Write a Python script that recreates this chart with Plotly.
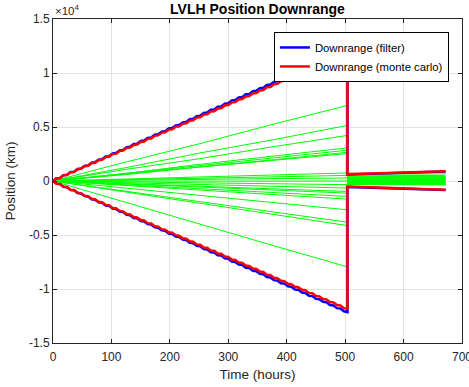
import numpy as np
import plotly.graph_objects as go

# ---- data ----
# 3-sigma bounds before the update, sampled every 6 hours from 0 to 504 h
bound_times_pre = list(range(0, 505, 6))
upper_filter_pre = [0, 250, 290, 540, 580, 830, 860, 1110, 1150, 1400,
                    1440, 1690, 1730, 1980, 2020, 2270, 2300, 2550, 2590, 2840,
                    2880, 3130, 3170, 3420, 3460, 3710, 3740, 3990, 4030, 4280,
                    4320, 4570, 4610, 4860, 4900, 5150, 5180, 5430, 5470, 5720,
                    5760, 6010, 6050, 6300, 6340, 6590, 6620, 6870, 6910, 7160,
                    7200, 7450, 7490, 7740, 7780, 8030, 8060, 8310, 8350, 8600,
                    8640, 8890, 8930, 9180, 9220, 9470, 9500, 9750, 9790, 10040,
                    10080, 10330, 10370, 10620, 10660, 10910, 10940, 11190, 11230, 11480,
                    11520, 11770, 11810, 12060, 12100]
lower_filter_pre = [0, -250, -290, -540, -580, -830, -860, -1110, -1150, -1400,
                    -1440, -1690, -1730, -1980, -2020, -2270, -2300, -2550, -2590, -2840,
                    -2880, -3130, -3170, -3420, -3460, -3710, -3740, -3990, -4030, -4280,
                    -4320, -4570, -4610, -4860, -4900, -5150, -5180, -5430, -5470, -5720,
                    -5760, -6010, -6050, -6300, -6340, -6590, -6620, -6870, -6910, -7160,
                    -7200, -7450, -7490, -7740, -7780, -8030, -8060, -8310, -8350, -8600,
                    -8640, -8890, -8930, -9180, -9220, -9470, -9500, -9750, -9790, -10040,
                    -10080, -10330, -10370, -10620, -10660, -10910, -10940, -11190, -11230, -11480,
                    -11520, -11770, -11810, -12060, -12140]
upper_mc_pre = [0, 250, 280, 530, 560, 810, 840, 1090, 1120, 1370,
                1410, 1650, 1690, 1930, 1970, 2210, 2250, 2490, 2530, 2770,
                2810, 3060, 3090, 3340, 3370, 3620, 3650, 3900, 3930, 4180,
                4220, 4460, 4500, 4740, 4780, 5020, 5060, 5300, 5340, 5580,
                5620, 5870, 5900, 6150, 6180, 6430, 6460, 6710, 6740, 6990,
                7030, 7270, 7310, 7550, 7590, 7830, 7870, 8110, 8150, 8390,
                8430, 8680, 8710, 8960, 8990, 9240, 9270, 9520, 9550, 9800,
                9840, 10080, 10120, 10360, 10400, 10640, 10680, 10920, 10960, 11200,
                11240, 11490, 11520, 11770, 11800]
lower_mc_pre = [0, -250, -280, -530, -560, -810, -840, -1090, -1120, -1370,
                -1410, -1650, -1690, -1930, -1970, -2210, -2250, -2490, -2530, -2770,
                -2810, -3060, -3090, -3340, -3370, -3620, -3650, -3900, -3930, -4180,
                -4220, -4460, -4500, -4740, -4780, -5020, -5060, -5300, -5340, -5580,
                -5620, -5870, -5900, -6150, -6180, -6430, -6460, -6710, -6740, -6990,
                -7030, -7270, -7310, -7550, -7590, -7830, -7870, -8110, -8150, -8390,
                -8430, -8680, -8710, -8960, -8990, -9240, -9270, -9520, -9550, -9800,
                -9840, -10080, -10120, -10360, -10400, -10640, -10680, -10920, -10960, -11200,
                -11240, -11490, -11520, -11770, -11830]

# bounds after the update
bound_times_post = [504, 530, 560, 590, 620, 650, 672]
upper_filter_post = [600, 640, 690, 740, 790, 840, 870]
upper_mc_post = [640, 680, 730, 780, 830, 880, 910]
lower_filter_post = [-560, -600, -650, -700, -750, -800, -840]
lower_mc_post = [-520, -560, -610, -660, -710, -760, -800]

# Monte Carlo runs
run_times_pre = [0, 125, 250, 375, 504]
run_times_post = [504, 590, 672]
runs_pre = [
    [0, 1760, 3440, 5230, 7000],
    [0, 1240, 2580, 3800, 5150],
    [0, 1080, 2060, 3160, 4220],
    [0, 700, 1540, 2270, 3070],
    [0, 730, 1390, 2130, 2850],
    [0, 640, 1330, 1960, 2660],
    [0, 600, 1280, 1900, 2540],
    [0, 200, 360, 560, 745],
    [0, 110, 270, 380, 520],
    [0, 90, 130, 220, 280],
    [0, -20, 10, -10, 0],
    [0, -70, -180, -250, -340],
    [0, -170, -310, -490, -650],
    [0, -230, -490, -720, -970],
    [0, -290, -550, -840, -1120],
    [0, -340, -720, -1060, -1430],
    [0, -430, -820, -1260, -1680],
    [0, -650, -1330, -1980, -2670],
    [0, -930, -1900, -2850, -3820],
    [0, -1040, -2050, -3080, -4130],
    [0, -1990, -3950, -5950, -7950],
]
runs_post = [
    [620, 640, 660], [480, 500, 520], [400, 420, 430], [330, 340, 350],
    [260, 280, 290], [200, 210, 220], [150, 160, 170], [100, 110, 120],
    [60, 60, 70], [20, 30, 30], [-20, -20, -10], [-60, -70, -70],
    [-100, -110, -120], [-150, -160, -170], [-200, -210, -220], [-240, -260, -270],
    [-290, -300, -310], [-330, -340, -360], [-130, -130, -140], [50, 40, 40],
    [250, 260, 270],
]

# ---- figure ----
fig = go.Figure()

gx, gy = [], []
for pre, post in zip(runs_pre, runs_post):
    gx += run_times_pre + run_times_post + [None]
    gy += pre + post + [None]
fig.add_trace(go.Scatter(x=gx, y=gy, mode="lines", line=dict(color="#00ff00", width=1),
                         showlegend=False, hoverinfo="skip"))

tb = bound_times_pre + bound_times_post
fig.add_trace(go.Scatter(x=tb, y=upper_filter_pre + upper_filter_post, mode="lines",
                         line=dict(color="#0000ff", width=2.5), name="Downrange (filter)",
                         legendgroup="f"))
fig.add_trace(go.Scatter(x=tb, y=lower_filter_pre + lower_filter_post, mode="lines",
                         line=dict(color="#0000ff", width=2.5), showlegend=False,
                         legendgroup="f"))
fig.add_trace(go.Scatter(x=tb, y=upper_mc_pre + upper_mc_post, mode="lines",
                         line=dict(color="#ff0000", width=2.5), name="Downrange (monte carlo)",
                         legendgroup="m"))
fig.add_trace(go.Scatter(x=tb, y=lower_mc_pre + lower_mc_post, mode="lines",
                         line=dict(color="#ff0000", width=2.5), showlegend=False,
                         legendgroup="m"))

axis_color = "#262626"
grid_color = "#e3e3e3"
font_family = "Liberation Sans, Arial, sans-serif"

x_ticks = [0, 100, 200, 300, 400, 500, 600, 700]
y_ticks = [-15000, -10000, -5000, 0, 5000, 10000, 15000]
y_tick_text = ["-1.5", "-1", "-0.5", "0", "0.5", "1", "1.5"]

fig.update_layout(
    width=469, height=387,
    margin=dict(l=53, r=7, t=19, b=44),
    paper_bgcolor="white", plot_bgcolor="white",
    font=dict(family=font_family, size=12, color=axis_color),
    title=dict(text="<b>LVLH Position Downrange</b>", x=0.549, xanchor="center",
               y=0.976, yanchor="middle", font=dict(size=14, color="black")),
    xaxis=dict(range=[0, 700], tickvals=x_ticks, ticks="inside", ticklen=4,
               tickcolor=axis_color, showline=True, linecolor=axis_color, linewidth=1,
               mirror="ticks", showgrid=True, gridcolor=grid_color, zeroline=False,
               automargin=False, ticklabeloverflow="allow", ticklabelstandoff=3,
               tickfont=dict(size=12),
               title=dict(text="Time (hours)", font=dict(size=13.5), standoff=6)),
    yaxis=dict(range=[-15000, 15000], tickvals=y_ticks, ticktext=y_tick_text,
               ticks="inside", ticklen=4, tickcolor=axis_color, showline=True,
               linecolor=axis_color, linewidth=1, mirror="ticks", showgrid=True,
               gridcolor=grid_color, zeroline=False, automargin=False,
               tickfont=dict(size=12),
               title=dict(text="Position (km)", font=dict(size=13.5), standoff=10)),
    legend=dict(x=0.968, xanchor="right", y=0.96, yanchor="top", bgcolor="white",
                bordercolor="black", borderwidth=1, font=dict(size=11.3, color="black"),
                tracegroupgap=0),
    annotations=[dict(text="\u00d710<sup>4</sup>", xref="paper", yref="paper", x=0,
                      y=1, xanchor="left", yanchor="bottom", showarrow=False,
                      font=dict(size=11.5, color=axis_color))],
)

fig.write_html("out.html", config={"displayModeBar": False},
               post_script="document.body.style.margin='0';document.body.style.overflow='hidden';")
